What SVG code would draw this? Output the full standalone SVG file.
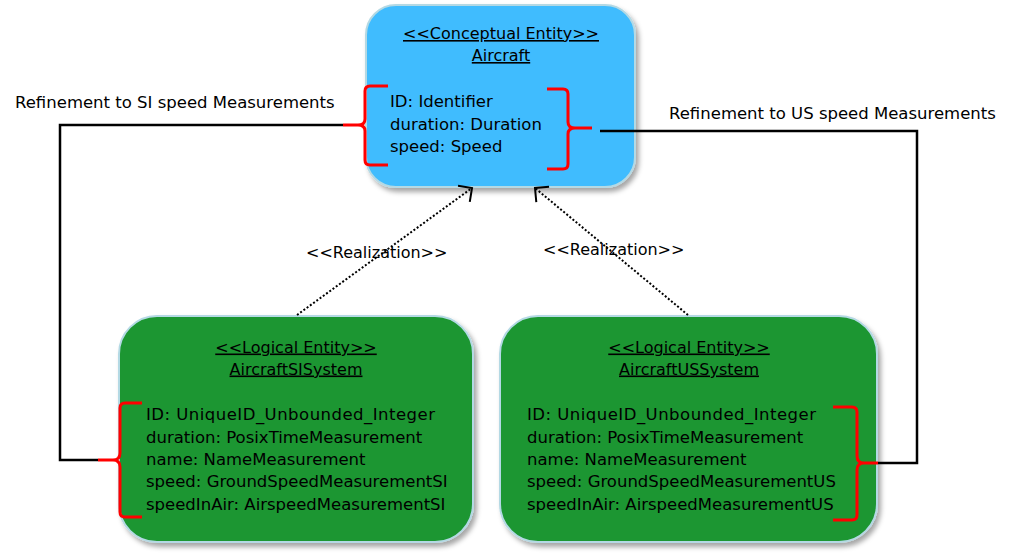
<svg xmlns="http://www.w3.org/2000/svg" width="1013" height="556" viewBox="0 0 1013 556">
<style>
.node{stroke:#B4D9E4;stroke-width:2;filter:url(#sh)}
.t{font-family:"DejaVu Sans","Liberation Sans",sans-serif;fill:#000}
.title{font-size:16px;text-anchor:middle;text-decoration:underline}
.attr{font-size:16.5px}
.lbl{font-size:16.5px}
.rl{font-size:16px}
.br{fill:none;stroke:#FF0000;stroke-width:3;stroke-linejoin:round;stroke-linecap:butt}
.ln{fill:none;stroke:#000;stroke-width:2.5}
.dot{fill:none;stroke:#000;stroke-width:2;stroke-dasharray:2,2;marker-end:url(#open)}
</style>
<defs>
<filter id="sh" x="-10%" y="-10%" width="125%" height="125%">
<feDropShadow dx="3" dy="4" stdDeviation="2.5" flood-color="#000" flood-opacity="0.35"/>
</filter>
<marker id="open" markerUnits="userSpaceOnUse" markerWidth="30" markerHeight="30" refX="0" refY="0" viewBox="-15 -15 30 30" orient="auto" overflow="visible">
<path d="M-10,-10 L0,0 L-10,10" fill="none" stroke="#000" stroke-width="2" stroke-dasharray="none"/>
</marker>
</defs>
<rect width="1013" height="556" fill="#fff"/>

<g id="aircraft">
<rect class="node" x="366" y="5" width="269" height="182" rx="30" ry="30" fill="#40BCFE"/>
<text class="t title" x="501" y="39">&lt;&lt;Conceptual Entity&gt;&gt;</text>
<text class="t title" x="501" y="61">Aircraft</text>
<text class="t attr" x="390" y="107">ID: Identifier</text>
<text class="t attr" x="390" y="129.5">duration: Duration</text>
<text class="t attr" x="390" y="152">speed: Speed</text>
<path class="br" d="M388,86 L370,86 Q365,86 365,91 L365,119 Q365,125 358,125 L343,125 M358,125 Q365,125 365,131 L365,160 Q365,165 370,165 L388,165"/>
<path class="br" d="M547,89 L563,89 Q568,89 568,94 L568,122 Q568,128 575,128 L592,128 M575,128 Q568,128 568,134 L568,164 Q568,169 563,169 L547,169"/>
</g>

<g id="aircraftSI">
<rect class="node" x="119" y="316" width="354" height="226" rx="38" ry="38" fill="#1D9632"/>
<text class="t title" x="296" y="352.5">&lt;&lt;Logical Entity&gt;&gt;</text>
<text class="t title" x="296" y="374.5">AircraftSISystem</text>
<text class="t attr" x="146" y="420" textLength="289" lengthAdjust="spacing">ID: UniqueID_Unbounded_Integer</text>
<text class="t attr" x="146" y="442.5">duration: PosixTimeMeasurement</text>
<text class="t attr" x="146" y="465">name: NameMeasurement</text>
<text class="t attr" x="146" y="487">speed: GroundSpeedMeasurementSI</text>
<text class="t attr" x="146" y="509.5">speedInAir: AirspeedMeasurementSI</text>
<path class="br" d="M142,403 L125,403 Q120,403 120,408 L120,453 Q120,460 113,460 L98,460 M113,460 Q120,460 120,467 L120,512 Q120,517 125,517 L142,517"/>
</g>

<g id="aircraftUS">
<rect class="node" x="500" y="316" width="377" height="226" rx="38" ry="38" fill="#1D9632"/>
<text class="t title" x="689" y="352.5">&lt;&lt;Logical Entity&gt;&gt;</text>
<text class="t title" x="689" y="374.5">AircraftUSSystem</text>
<text class="t attr" x="527" y="420" textLength="289" lengthAdjust="spacing">ID: UniqueID_Unbounded_Integer</text>
<text class="t attr" x="527" y="442.5">duration: PosixTimeMeasurement</text>
<text class="t attr" x="527" y="465">name: NameMeasurement</text>
<text class="t attr" x="527" y="487">speed: GroundSpeedMeasurementUS</text>
<text class="t attr" x="527" y="509.5">speedInAir: AirspeedMeasurementUS</text>
<path class="br" d="M833,407 L852,407 Q857,407 857,412 L857,456 Q857,463 864,463 L878,463 M864,463 Q857,463 857,470 L857,515 Q857,520 852,520 L833,520"/>
</g>

<g id="connectors">
<path class="ln" d="M343,125 L60,125 L60,460 L98,460"/>
<path class="ln" d="M600,131 L917,131 L917,463 L878,463"/>
<path class="dot" d="M297,315 L472,188"/>
<path class="dot" d="M688,315 L535,188"/>
<text class="t lbl" x="15" y="108">Refinement to SI speed Measurements</text>
<text class="t lbl" x="669" y="119">Refinement to US speed Measurements</text>
<text class="t rl" x="306" y="258">&lt;&lt;Realization&gt;&gt;</text>
<text class="t rl" x="543" y="255">&lt;&lt;Realization&gt;&gt;</text>
</g>
</svg>
